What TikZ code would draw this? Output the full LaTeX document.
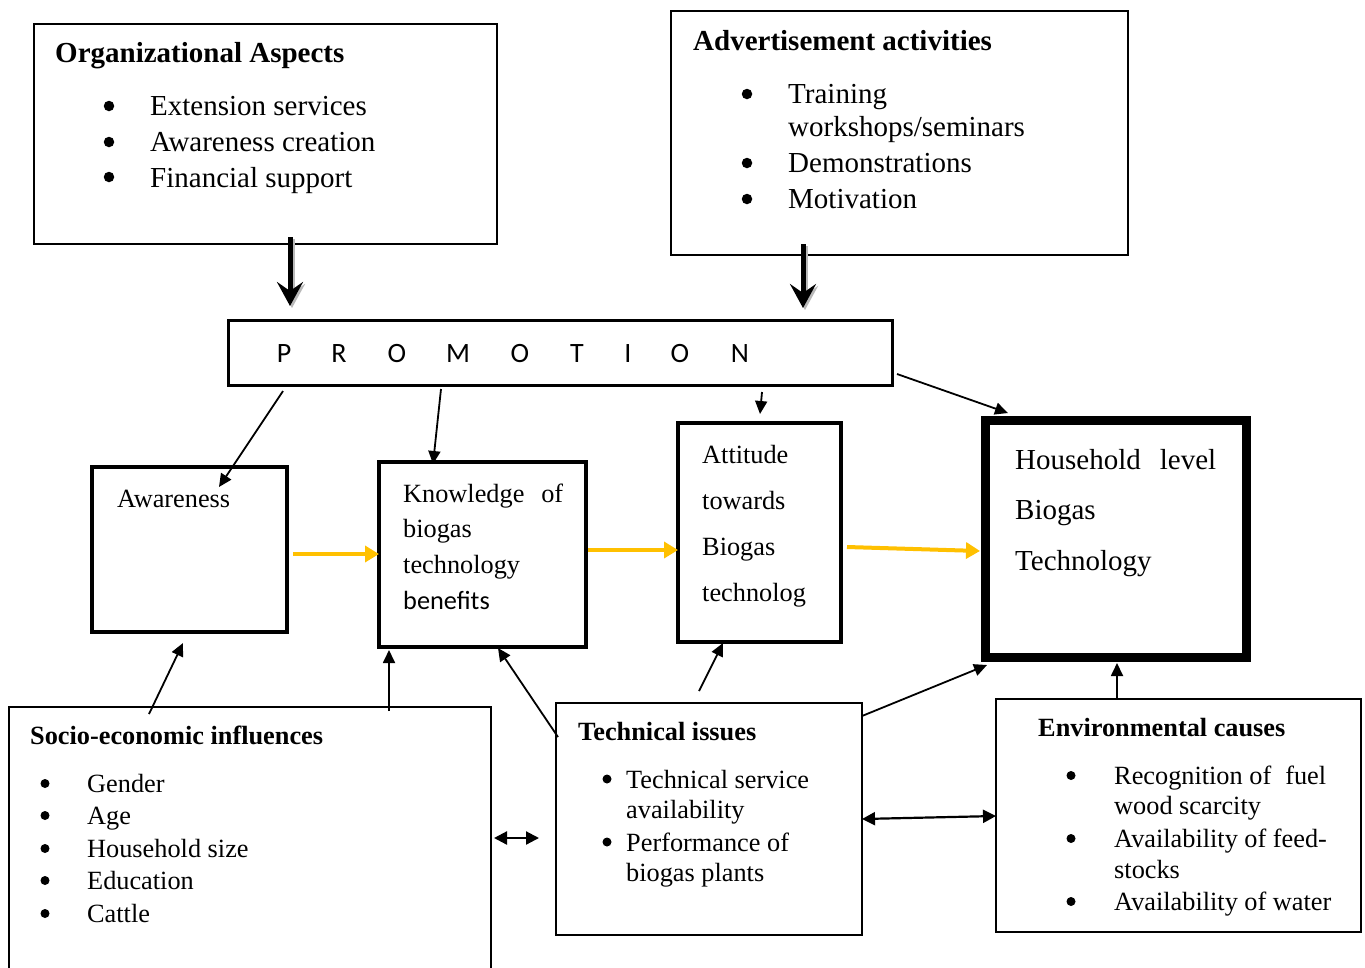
\documentclass[tikz,border=0pt]{standalone}
\usepackage{fontspec}
\setmainfont{Liberation Serif}
\newfontfamily\calfont{Carlito}
\usetikzlibrary{arrows.meta}
\definecolor{ylw}{HTML}{FFC000}
\tikzset{
  box/.style={draw, line width=1.5pt, inner sep=0pt, fill=white},
  big/.style={font=\fontsize{29}{34}\selectfont},
  sm/.style={font=\fontsize{26.3}{31}\selectfont},
  txt/.style={anchor=base west, inner sep=0pt},
  bigdot/.style={circle, fill, inner sep=0pt, minimum size=10.5pt},
  smdot/.style={circle, fill, inner sep=0pt, minimum size=9pt},
  plet/.style={anchor=base, inner sep=0pt, font=\calfont\fontsize{28}{32}\selectfont},
  arr/.style={line width=1.8pt, -{Triangle[length=13pt,width=12pt]}},
  yarr/.style={line width=4pt, draw=ylw, -{Triangle[length=14pt,width=16pt,fill=ylw]}},
  darr/.style={line width=2.2pt, {Triangle[length=13pt,width=13pt]}-{Triangle[length=13pt,width=13pt]}},
  bigarr/.style={line width=5pt, -{Stealth[length=24pt,width=26pt,inset=9pt]}},
}
\begin{document}
\begin{tikzpicture}[x=1pt,y=-1pt]
\useasboundingbox (0,0) rectangle (1365,967);
\clip (0,0) rectangle (1365,967);
\fill[white] (0,0) rectangle (1365,967);

% boxes
\node[box, minimum width=463, minimum height=220] (org) at (265.5,134) {};
\node[box, minimum width=457, minimum height=244] (adv) at (899.5,133) {};
\node[box, line width=3pt, minimum width=664, minimum height=65] (promo) at (560,352.5) {};
\node[box, line width=3.5pt, minimum width=195, minimum height=165] (aware) at (189.5,549.5) {};
\node[box, line width=4pt, minimum width=207, minimum height=185] (know) at (482.5,554.5) {};
\node[box, line width=4pt, minimum width=163, minimum height=219] (att) at (759.5,532.5) {};
\node[box, line width=9pt, minimum width=261, minimum height=237] (house) at (1115.5,538.5) {};
\node[box, minimum width=482, minimum height=266] (socio) at (250,840) {};
\node[box, minimum width=306, minimum height=232] (tech) at (709,819) {};
\node[box, minimum width=365, minimum height=233] (env) at (1178.5,815.5) {};

% Organizational aspects
\node[txt, font=\bfseries\fontsize{29}{34}\selectfont] (orgh) at (55,62) {Organizational Aspects};
\node[bigdot] (ob1) at (109,106) {};
\node[bigdot] (ob2) at (109,142) {};
\node[bigdot] (ob3) at (109,177) {};
\node[txt, big] (o1) at (150,115) {Extension services};
\node[txt, big] (o2) at (150,151) {Awareness creation};
\node[txt, big] (o3) at (150,187) {Financial support};

% Advertisement activities
\node[txt, font=\bfseries\fontsize{29}{34}\selectfont] (advh) at (693,50) {Advertisement activities};
\node[bigdot] (ab1) at (747,94) {};
\node[bigdot] (ab2) at (747,163) {};
\node[bigdot] (ab3) at (747,199) {};
\node[txt, big] (a1) at (788,103) {Training};
\node[txt, big] (a1b) at (788,136) {workshops/seminars};
\node[txt, big] (a2) at (788,172) {Demonstrations};
\node[txt, big] (a3) at (788,208) {Motivation};

% PROMOTION
\node[plet] (p1) at (284,362) {P};
\node[plet] (p2) at (339,362) {R};
\node[plet] (p3) at (397,362) {O};
\node[plet] (p4) at (458,362) {M};
\node[plet] (p5) at (520,362) {O};
\node[plet] (p6) at (577,362) {T};
\node[plet] (p7) at (628,362) {I};
\node[plet] (p8) at (680,362) {O};
\node[plet] (p9) at (740,362) {N};

% middle row texts
\node[txt, sm] (aw) at (117,507) {Awareness};
\node[txt, sm] (k1) at (403,502) {\hbox to 160pt{Knowledge\hfill of}};
\node[txt, sm] (k2) at (403,537) {biogas};
\node[txt, sm] (k3) at (403,573) {technology};
\node[txt, font=\calfont\fontsize{26.3}{31}\selectfont] (k4) at (403,609) {benefits};
\node[txt, sm] (t1) at (702,463) {Attitude};
\node[txt, sm] (t2) at (702,509) {towards};
\node[txt, sm] (t3) at (702,555) {Biogas};
\node[txt, sm] (t4) at (702,601) {technolog};
\node[txt, big] (h1) at (1015,469) {\hbox to 201pt{Household\hfill level}};
\node[txt, big] (h2) at (1015,519) {Biogas};
\node[txt, big] (h3) at (1015,570) {Technology};

% Socio-economic influences
\node[txt, font=\bfseries\fontsize{26.3}{31}\selectfont] (sh) at (30,744) {Socio-economic influences};
\foreach \y/\t [count=\i] in {792/Gender,824/Age,857/Household size,889/Education,922/Cattle}{
  \node[smdot] (sb\i) at (45,\y-8.5) {};
  \node[txt, sm] (s\i) at (87,\y) {\t};
}

% Technical issues
\node[txt, font=\bfseries\fontsize{26.3}{31}\selectfont] (th) at (578,740) {Technical issues};
\node[smdot] (tb1) at (607,779) {};
\node[smdot] (tb2) at (607,842) {};
\node[txt, sm] (ti1) at (626,788) {Technical service};
\node[txt, sm] (ti1b) at (626,818) {availability};
\node[txt, sm] (ti2) at (626,851) {Performance of};
\node[txt, sm] (ti2b) at (626,881) {biogas plants};

% Environmental causes
\node[txt, font=\bfseries\fontsize{26.3}{31}\selectfont] (eh) at (1038,736) {Environmental causes};
\node[smdot] (eb1) at (1071,775.5) {};
\node[smdot] (eb2) at (1071,838.5) {};
\node[smdot] (eb3) at (1071,901.5) {};
\node[txt, sm] (e1) at (1114,784) {\hbox to 212pt{Recognition of\hfill fuel}};
\node[txt, sm] (e1b) at (1114,814) {wood scarcity};
\node[txt, sm] (e2) at (1114,847) {Availability of feed-};
\node[txt, sm] (e2b) at (1114,878) {stocks};
\node[txt, sm] (e3) at (1114,910) {Availability of water};

% connector endpoints
\coordinate (orgout) at (290,237);  \coordinate (promoin1) at (290,306);
\coordinate (advout) at (803,244);  \coordinate (promoin2) at (803,308);
\coordinate (pa) at (283,391); \coordinate (awin) at (219,487);
\coordinate (pk) at (441,389); \coordinate (kin) at (433,464);
\coordinate (pt) at (762,392); \coordinate (tin) at (760,414);
\coordinate (ph) at (897,374); \coordinate (hin) at (1008,413);
\coordinate (y1a) at (293,554); \coordinate (y1b) at (379,554);
\coordinate (y2a) at (588,550); \coordinate (y2b) at (678,550);
\coordinate (y3a) at (847,547); \coordinate (y3b) at (980,551);
\coordinate (sa) at (149,714); \coordinate (sain) at (183,643);
\coordinate (sk) at (389,711); \coordinate (skin) at (389,650);
\coordinate (tk) at (558,737); \coordinate (tkin) at (498,648);
\coordinate (tt) at (699,691); \coordinate (ttin) at (723,643);
\coordinate (th2) at (862,716); \coordinate (thin) at (987,665);
\coordinate (eo) at (1117,699); \coordinate (ehin) at (1117,663);
\coordinate (d1a) at (494,838); \coordinate (d1b) at (539,838);
\coordinate (d2a) at (862,819); \coordinate (d2b) at (996,816);

% big arrows with shadow
\draw[bigarr, draw=gray!55, fill=gray!55] ([shift={(2,2)}]orgout) -- ([shift={(2,2)}]promoin1);
\draw[bigarr, draw=gray!55, fill=gray!55] ([shift={(2,2)}]advout) -- ([shift={(2,2)}]promoin2);
\draw[bigarr] (orgout) -- (promoin1);
\draw[bigarr] (advout) -- (promoin2);

\draw[arr] (pa) -- (awin);
\draw[arr] (pk) -- (kin);
\draw[arr] (pt) -- (tin);
\draw[arr] (ph) -- (hin);

\draw[yarr] (y1a) -- (y1b);
\draw[yarr] (y2a) -- (y2b);
\draw[yarr] (y3a) -- (y3b);

\draw[arr] (sa) -- (sain);
\draw[arr] (sk) -- (skin);
\draw[arr] (tk) -- (tkin);
\draw[arr] (tt) -- (ttin);
\draw[arr] (th2) -- (thin);
\draw[arr] (eo) -- (ehin);

\draw[darr] (d1a) -- (d1b);
\draw[darr] (d2a) -- (d2b);
\end{tikzpicture}
\end{document}
